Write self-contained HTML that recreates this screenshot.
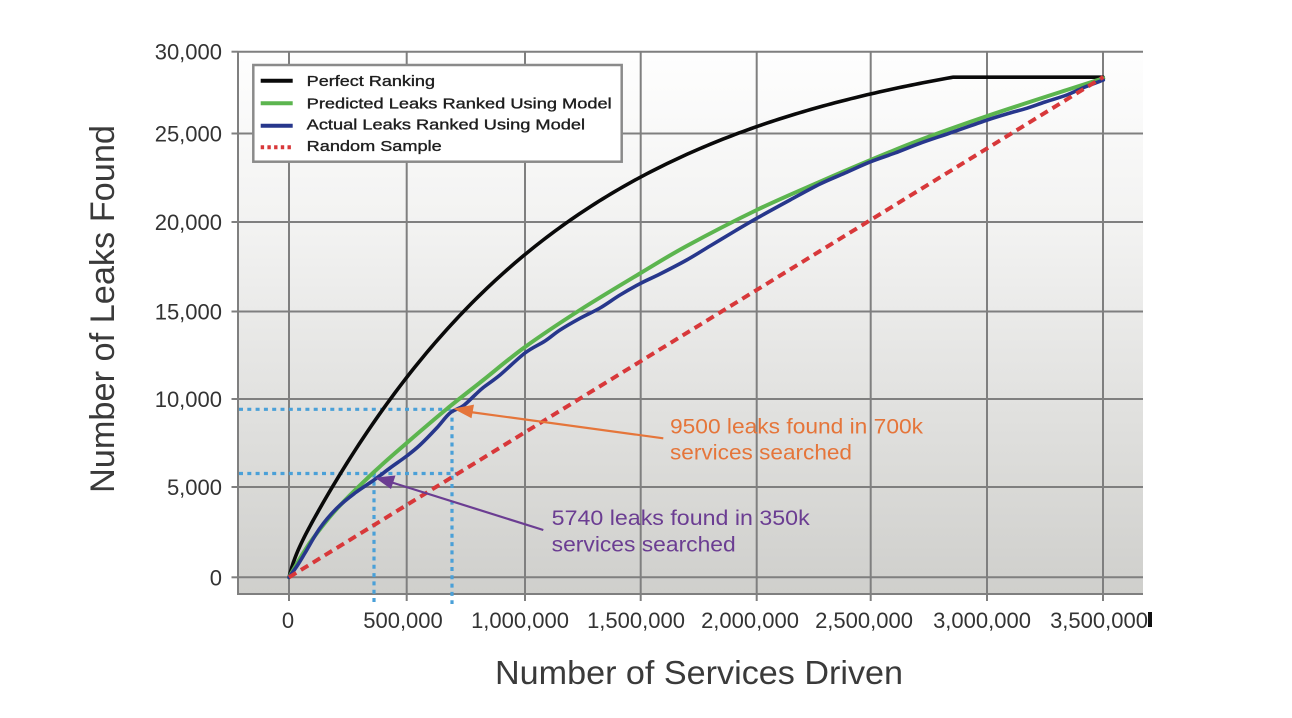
<!DOCTYPE html>
<html>
<head>
<meta charset="utf-8">
<style>
html,body{margin:0;padding:0;background:#fff;}
svg{display:block;}
text{font-family:"Liberation Sans",Arial,sans-serif;}
</style>
</head>
<body>
<svg width="1292" height="718" viewBox="0 0 1292 718" xmlns="http://www.w3.org/2000/svg">
<defs>
<linearGradient id="bg" x1="0" y1="0" x2="0" y2="1">
<stop offset="0" stop-color="#fefefe"/>
<stop offset="0.35" stop-color="#f1f1f0"/>
<stop offset="1" stop-color="#cfcfcc"/>
</linearGradient>
</defs>
<rect x="0" y="0" width="1292" height="718" fill="#ffffff"/>
<rect x="238" y="51.7" width="905" height="542.3" fill="url(#bg)"/>

<g stroke="#7f7f7f" stroke-width="2" fill="none">
<line x1="238" y1="51.7" x2="1143" y2="51.7"/>
<line x1="238" y1="133.5" x2="1143" y2="133.5"/>
<line x1="238" y1="222" x2="1143" y2="222"/>
<line x1="238" y1="311.5" x2="1143" y2="311.5"/>
<line x1="238" y1="399" x2="1143" y2="399"/>
<line x1="238" y1="487" x2="1143" y2="487"/>
<line x1="238" y1="577.3" x2="1143" y2="577.3"/>
<line x1="289" y1="51.7" x2="289" y2="601"/>
<line x1="406.7" y1="51.7" x2="406.7" y2="601"/>
<line x1="525" y1="51.7" x2="525" y2="601"/>
<line x1="640.7" y1="51.7" x2="640.7" y2="601"/>
<line x1="756.7" y1="51.7" x2="756.7" y2="601"/>
<line x1="870.7" y1="51.7" x2="870.7" y2="601"/>
<line x1="987" y1="51.7" x2="987" y2="601"/>
<line x1="1103" y1="51.7" x2="1103" y2="601"/>
<line x1="238" y1="51" x2="238" y2="594.5"/>
<line x1="237" y1="594" x2="1143" y2="594"/>
<line x1="231.5" y1="51.7" x2="238" y2="51.7"/>
<line x1="231.5" y1="133.5" x2="238" y2="133.5"/>
<line x1="231.5" y1="222" x2="238" y2="222"/>
<line x1="231.5" y1="311.5" x2="238" y2="311.5"/>
<line x1="231.5" y1="399" x2="238" y2="399"/>
<line x1="231.5" y1="487" x2="238" y2="487"/>
<line x1="231.5" y1="577.3" x2="238" y2="577.3"/>
</g>

<g font-size="22" fill="#333" text-anchor="end">
<text x="222" y="59.5">30,000</text>
<text x="222" y="141.5">25,000</text>
<text x="222" y="230">20,000</text>
<text x="222" y="319.5">15,000</text>
<text x="222" y="407">10,000</text>
<text x="222" y="495">5,000</text>
<text x="222" y="585.5">0</text>
</g>

<g font-size="22" fill="#333" text-anchor="middle">
<text x="288" y="628">0</text>
<text x="403" y="628">500,000</text>
<text x="520" y="628">1,000,000</text>
<text x="636" y="628">1,500,000</text>
<text x="750" y="628">2,000,000</text>
<text x="864" y="628">2,500,000</text>
<text x="982" y="628">3,000,000</text>
<text x="1099" y="628">3,500,000</text>
</g>
<rect x="1148" y="612" width="4" height="15" fill="#111"/>

<text x="699" y="684" font-size="33" fill="#3a3a3a" text-anchor="middle" textLength="408" lengthAdjust="spacingAndGlyphs">Number of Services Driven</text>
<text transform="translate(114,309) rotate(-90)" x="0" y="0" font-size="34" fill="#3a3a3a" text-anchor="middle" textLength="368" lengthAdjust="spacingAndGlyphs">Number of Leaks Found</text>

<g stroke="#4aa0d8" stroke-width="3.2" stroke-dasharray="4 4.3" fill="none">
<line x1="239" y1="409.3" x2="454" y2="409.3"/>
<line x1="239" y1="473.5" x2="457" y2="473.5"/>
<line x1="374" y1="473.5" x2="374" y2="604"/>
<line x1="452" y1="409.3" x2="452" y2="604"/>
</g>

<path id="cBlack" fill="none" stroke="#0a0a0a" stroke-width="3.6" stroke-linejoin="round" stroke-linecap="round" d="M289,577.3 C300,530 320,500 353.3,449 C400,385 460,317 525,256 C640,170 760,120 953.3,77 L1103,77"/>
<path id="cGreen" fill="none" stroke="#5cb54f" stroke-width="4" stroke-linejoin="round" stroke-linecap="round" d="M289,577.3 L1103,78"/>
<path id="cBlue" fill="none" stroke="#27378c" stroke-width="3.6" stroke-linejoin="round" stroke-linecap="round" d="M289,577.3 L1103,80"/>

<line x1="289" y1="577.3" x2="1103.3" y2="77" stroke="#d8383a" stroke-width="4" stroke-dasharray="8.5 5.5"/>

<line x1="663.3" y1="438.3" x2="470" y2="412" stroke="#e5753a" stroke-width="2.2"/>
<polygon points="453.3,408.6 474,404.6 471.5,418.2" fill="#e5753a"/>
<line x1="543.3" y1="530" x2="392" y2="482.5" stroke="#6b3d92" stroke-width="2.2"/>
<polygon points="375,477.7 395.5,475.5 391,489" fill="#6b3d92"/>

<g font-size="21" fill="#e5753a">
<text x="670" y="433.3" textLength="253" lengthAdjust="spacingAndGlyphs">9500 leaks found in 700k</text>
<text x="670" y="459.3" textLength="182" lengthAdjust="spacingAndGlyphs">services searched</text>
</g>
<g font-size="21" fill="#6b3d92">
<text x="551.7" y="525" textLength="258" lengthAdjust="spacingAndGlyphs">5740 leaks found in 350k</text>
<text x="551.7" y="551.7" textLength="184" lengthAdjust="spacingAndGlyphs">services searched</text>
</g>

<rect x="253.3" y="65" width="368.4" height="96.7" fill="#ffffff" stroke="#8a8a8a" stroke-width="2.5"/>
<line x1="260.7" y1="80.7" x2="292.7" y2="80.7" stroke="#0a0a0a" stroke-width="4"/>
<line x1="260.7" y1="103.3" x2="292.7" y2="103.3" stroke="#5cb54f" stroke-width="4"/>
<line x1="260.7" y1="125.7" x2="292.7" y2="125.7" stroke="#27378c" stroke-width="4"/>
<line x1="260.7" y1="147.3" x2="292.7" y2="147.3" stroke="#d8383a" stroke-width="4" stroke-dasharray="3.4 3.3"/>
<g font-size="14.8" fill="#1e1e1e" stroke="#1e1e1e" stroke-width="0.35">
<text x="306.7" y="86" textLength="128.3" lengthAdjust="spacingAndGlyphs">Perfect Ranking</text>
<text x="306.7" y="108.3" textLength="305" lengthAdjust="spacingAndGlyphs">Predicted Leaks Ranked Using Model</text>
<text x="306.7" y="129.7" textLength="278.3" lengthAdjust="spacingAndGlyphs">Actual Leaks Ranked Using Model</text>
<text x="306.7" y="151" textLength="135" lengthAdjust="spacingAndGlyphs">Random Sample</text>
</g>
</svg>
<script>
(function(){
function cr(p){
  var d="M"+p[0][0]+","+p[0][1];
  for(var i=0;i<p.length-1;i++){
    var p0=p[i-1]||p[i],p1=p[i],p2=p[i+1],p3=p[i+2]||p[i+1];
    var c1x=p1[0]+(p2[0]-p0[0])/6,c1y=p1[1]+(p2[1]-p0[1])/6;
    var c2x=p2[0]-(p3[0]-p1[0])/6,c2y=p2[1]-(p3[1]-p1[1])/6;
    d+=" C"+c1x.toFixed(2)+","+c1y.toFixed(2)+" "+c2x.toFixed(2)+","+c2y.toFixed(2)+" "+p2[0]+","+p2[1];
  }
  return d;
}
function blackY(u){
  var D=515*(1-Math.exp(-u/250))+0.032*u+12*(1-Math.exp(-u/6))*Math.exp(-u/80);
  return 577.3-D;
}
var pts=[];
var uEnd=664.3;
for(var u=0;u<uEnd;u+=(u<30?1.5:4)){pts.push([(289+u).toFixed(2),blackY(u).toFixed(2)]);}
pts.push([(289+uEnd).toFixed(2),blackY(uEnd).toFixed(2)]);
var dB="M"+pts[0][0]+","+pts[0][1];
for(var i=1;i<pts.length;i++){dB+=" L"+pts[i][0]+","+pts[i][1];}
dB+=" L1103,"+blackY(uEnd).toFixed(2);
var green=[[289,577.3],[296.7,564],[303.3,553],[313.3,538],[336.7,509],[374,472],[406.7,443],[446.7,409],[483.3,380],[525,347],[580,310],[640.7,273],[686.7,246],[756.7,210],[820,181.7],[870.7,160],[920,140],[987.3,116],[1066.7,90],[1103.3,78.3]];
var blue=[[289,577.3],[297,566],[305,553],[320,528],[337,508],[355,493],[374,480],[390,468],[406.7,456],[420,445],[436.7,428],[450,413],[463,406],[475,395],[483.3,387.5],[500,375],[525,353],[545,341],[560,330],[580,318.3],[600,308],[620,295],[640.7,283.3],[660,274],[686.7,260],[710,246],[735,231],[756.7,218.3],[790,200],[820,184],[845,173],[870.7,161.7],[895,153],[920,143.3],[950,133],[987.3,120],[1010,113],[1026.7,108.3],[1045,102],[1066.7,95],[1085,87],[1103.3,80]];
document.getElementById("cBlack").setAttribute("d",dB);
document.getElementById("cGreen").setAttribute("d",cr(green));
document.getElementById("cBlue").setAttribute("d",cr(blue));
})();
</script>
</body>
</html>
